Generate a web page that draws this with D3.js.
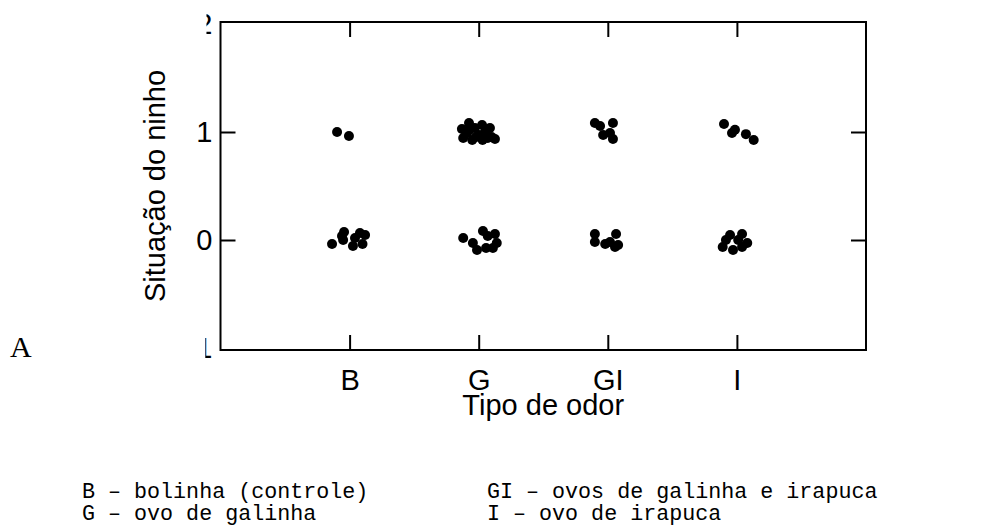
<!DOCTYPE html>
<html>
<head>
<meta charset="utf-8">
<script src="https://cdn.jsdelivr.net/npm/d3@7"></script>
<style>
  html, body { margin: 0; padding: 0; background: #fff; }
  svg { display: block; }
</style>
</head>
<body>
<svg id="chart" width="997" height="526"></svg>
<script>
// ---- data ----
const categories = ["B", "G", "GI", "I"];
const yTickValues = [-1, 0, 1, 2];
const yTickLabels = ["-1", "0", "1", "2"];
const xTitle = "Tipo de odor";
const yTitle = "Situação do ninho";
const panelLabel = "A";
const legendLeft = ["B – bolinha (controle)", "G – ovo de galinha"];
const legendRight = ["GI – ovos de galinha e irapuca", "I – ovo de irapuca"];

// jittered observations: category, horizontal jitter (category units), value (with jitter)
const pointCategory = [
  "B","B",
  "B","B","B","B","B","B","B","B","B",
  "G","G","G","G","G","G","G","G","G","G","G","G","G","G","G","G",
  "G","G","G","G","G","G","G","G","G",
  "GI","GI","GI","GI","GI","GI",
  "GI","GI","GI","GI","GI","GI","GI",
  "I","I","I","I","I",
  "I","I","I","I","I","I","I","I"
];
const pointJitter = [
  -0.097, -0.005,
  -0.136, -0.059, -0.043, -0.050, 0.026, 0.042, 0.080, 0.120, 0.100,
  -0.130, -0.075, -0.120, -0.050, 0.026, 0.002, 0.087, 0.100, 0.126, -0.030, 0.050, -0.090, 0.070, -0.020, -0.070, 0.030,
  -0.120, -0.045, -0.013, 0.033, 0.126, 0.110, 0.140, 0.057, 0.070,
  -0.100, 0.040, -0.036, 0.017, 0.040, -0.060,
  -0.100, -0.100, 0.064, 0.017, 0.056, 0.080, -0.020,
  -0.100, -0.038, -0.015, 0.070, 0.130,
  -0.053, 0.040, -0.110, -0.030, 0.040, 0.080, 0.010, -0.085
];
const pointValue = [
  1.000, 0.963,
  -0.037, 0.037, 0.074, 0.000, -0.056, 0.019, 0.065, 0.046, -0.037,
  1.028, 1.083, 0.944, 0.926, 1.065, 0.972, 1.037, 0.954, 0.935, 1.037, 1.000, 0.990, 0.944, 0.954, 1.020, 0.926,
  0.019, -0.028, -0.093, 0.083, 0.056, -0.074, -0.028, -0.074, 0.037,
  1.083, 1.083, 0.972, 0.990, 0.935, 1.056,
  0.056, -0.019, 0.056, -0.019, -0.065, -0.046, -0.037,
  1.074, 0.990, 1.020, 0.980, 0.926,
  0.046, 0.056, -0.065, -0.093, -0.065, -0.028, 0.000, 0.000
];

// ---- drawing ----
const svg = d3.select("#chart");
const box = { left: 220.5, right: 866, top: 22, bottom: 350 };

const x = d3.scaleLinear().domain([0, categories.length + 1]).range([box.left, box.right]);
const y = d3.scaleLinear().domain([-1.0185, 2.0185]).range([box.bottom, box.top]);

const sans = "Arial, 'Liberation Sans', sans-serif";
const fs = "29px";
const tickLen = 15;

// frame
svg.append("rect")
  .attr("x", box.left).attr("y", box.top)
  .attr("width", box.right - box.left).attr("height", box.bottom - box.top)
  .attr("fill", "none").attr("stroke", "#000").attr("stroke-width", 2);

// axes (ticks inward)
const xVals = categories.map((c, i) => i + 1);
const axBottom = d3.axisBottom(x).tickValues(xVals).tickSizeInner(-tickLen).tickSizeOuter(0)
  .tickFormat((d) => categories[d - 1]).tickPadding(19);
const axTop = d3.axisTop(x).tickValues(xVals).tickSizeInner(-tickLen).tickSizeOuter(0).tickFormat("");
const axLeft = d3.axisLeft(y).tickValues(yTickValues).tickSizeInner(-tickLen).tickSizeOuter(0)
  .tickFormat((d, i) => yTickLabels[i]).tickPadding(8);
const axRight = d3.axisRight(y).tickValues([0, 1]).tickSizeInner(-tickLen).tickSizeOuter(0).tickFormat("");

function styleAxis(g) {
  g.select(".domain").remove();
  g.selectAll(".tick line").attr("stroke", "#000").attr("stroke-width", 2);
  g.selectAll(".tick text").attr("fill", "#000").style("font-family", sans).style("font-size", fs);
}

svg.append("g").attr("transform", `translate(0,${box.bottom})`).call(axBottom).call(styleAxis);
svg.append("g").attr("transform", `translate(0,${box.top})`).call(axTop).call(styleAxis);
svg.append("g").attr("transform", `translate(${box.right},0)`).call(axRight).call(styleAxis);

// left axis: labels at the extremes are partly clipped, as in the original figure
const gl = svg.append("g").attr("transform", `translate(${box.left},0)`).call(axLeft).call(styleAxis);
const edgeTicks = gl.selectAll(".tick").filter(d => d === -1 || d === 2);
edgeTicks.select("line").remove();
const defs = svg.append("defs");
defs.append("clipPath").attr("id", "clipTop")
  .append("rect").attr("x", 206.5 - box.left).attr("y", -40).attr("width", 20).attr("height", 80);
defs.append("clipPath").attr("id", "clipBottom")
  .append("rect").attr("x", 205.3 - box.left).attr("y", -40).attr("width", 20).attr("height", 80);
edgeTicks.attr("clip-path", d => d === 2 ? "url(#clipTop)" : "url(#clipBottom)");

// points
const pts = pointCategory.map((c, i) => ({ c, j: pointJitter[i], v: pointValue[i] }));
svg.append("g").selectAll("circle").data(pts).join("circle")
  .attr("cx", d => x(categories.indexOf(d.c) + 1 + d.j))
  .attr("cy", d => y(d.v))
  .attr("r", 5)
  .attr("fill", "#000");

// titles
svg.append("text").attr("x", (box.left + box.right) / 2).attr("y", 415)
  .attr("text-anchor", "middle").style("font-family", sans).style("font-size", fs).text(xTitle);
svg.append("text").attr("transform", `translate(165,${(box.top + box.bottom) / 2}) rotate(-90)`)
  .attr("text-anchor", "middle").style("font-family", sans).style("font-size", fs).text(yTitle);

// panel label
svg.append("text").attr("x", 10).attr("y", 357)
  .style("font-family", "'Times New Roman', 'Liberation Serif', serif").style("font-size", "30px").text(panelLabel);

// legend
const mono = "'Courier New', 'Liberation Mono', monospace";
svg.append("g").selectAll("text").data(legendLeft).join("text")
  .attr("x", 82).attr("y", (d, i) => 498 + i * 22)
  .style("font-family", mono).style("font-size", "21.7px").text(d => d);
svg.append("g").selectAll("text").data(legendRight).join("text")
  .attr("x", 487).attr("y", (d, i) => 498 + i * 22)
  .style("font-family", mono).style("font-size", "21.7px").text(d => d);
</script>
</body>
</html>
